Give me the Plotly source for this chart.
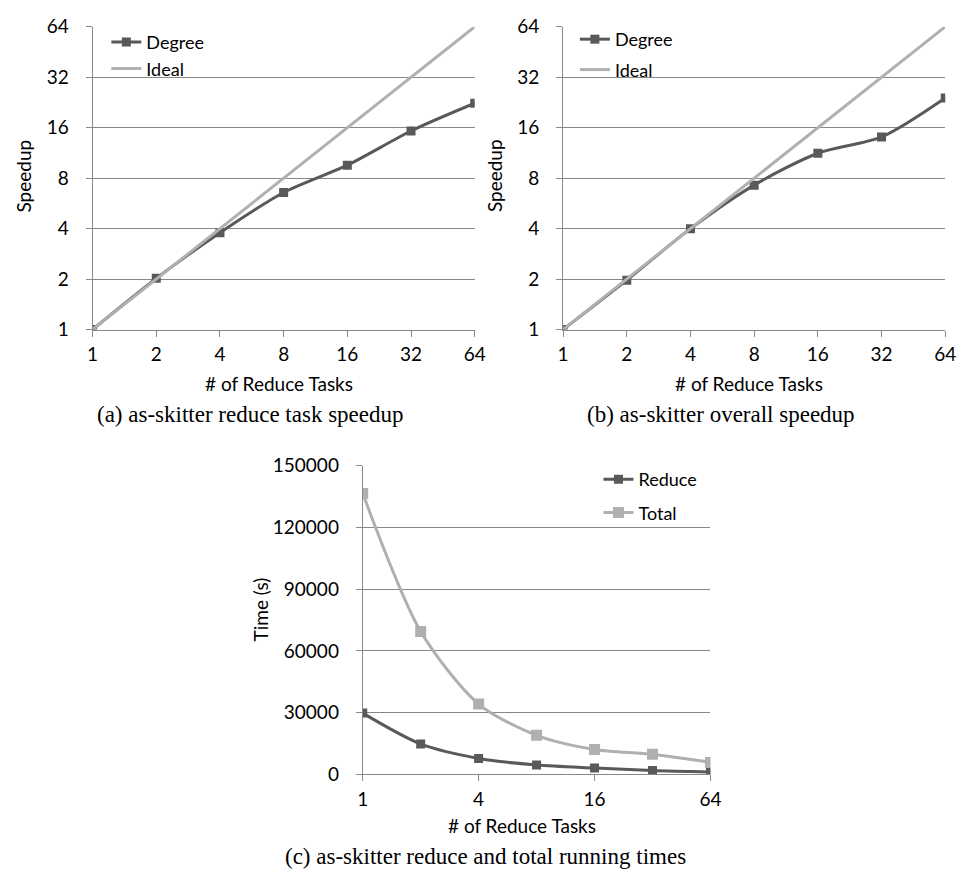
import plotly.graph_objects as go

# ---------------- data ----------------
tasks = [1, 2, 4, 8, 16, 32, 64]
reduce_speedup = [1.0, 2.02, 3.78, 6.57, 9.56, 15.3, 22.4]
overall_speedup = [1.0, 1.97, 4.0, 7.27, 11.27, 14.1, 24.1]
ideal_speedup = [1, 2, 4, 8, 16, 32, 64]
reduce_time = [29800, 14800, 7750, 4560, 3130, 1920, 1200]
total_time = [136600, 69500, 34200, 19000, 12150, 9750, 5800]

speed_ticks = [1, 2, 4, 8, 16, 32, 64]
time_xticks = [1, 4, 16, 64]
time_yticks = [0, 30000, 60000, 90000, 120000, 150000]

W, H = 969, 881
OFF = 8  # default page body margin
FW, FH = W - OFF, H - 2 * OFF  # figure size so the page fits the window exactly
DARK = "#595959"
LIGHT2 = "#B0B0B0"
GRID = "#888888"
FONT = "Lato"
SERIF = "Liberation Serif"
FS = 19
LFS = 18


def px_x(p):
    return (p - OFF) / FW


def px_y(p):
    return 1 - (p - OFF) / FH


fig = go.Figure()

# (a)
fig.add_trace(go.Scatter(x=tasks, y=reduce_speedup, name="Degree", mode="lines+markers",
                         line=dict(color=DARK, width=3, shape="spline", smoothing=0.8),
                         marker=dict(symbol="square", size=9, color=DARK),
                         xaxis="x", yaxis="y", legend="legend", legendgroup="a1"))
fig.add_trace(go.Scatter(x=tasks, y=ideal_speedup, name="Ideal", mode="lines",
                         line=dict(color=LIGHT2, width=3),
                         xaxis="x", yaxis="y", legend="legend", legendgroup="a2"))
# (b)
fig.add_trace(go.Scatter(x=tasks, y=overall_speedup, name="Degree", mode="lines+markers",
                         line=dict(color=DARK, width=3, shape="spline", smoothing=0.8),
                         marker=dict(symbol="square", size=9, color=DARK),
                         xaxis="x2", yaxis="y2", legend="legend2", legendgroup="b1"))
fig.add_trace(go.Scatter(x=tasks, y=ideal_speedup, name="Ideal", mode="lines",
                         line=dict(color=LIGHT2, width=3),
                         xaxis="x2", yaxis="y2", legend="legend2", legendgroup="b2"))
# (c)
fig.add_trace(go.Scatter(x=tasks, y=reduce_time, name="Reduce", mode="lines+markers",
                         line=dict(color=DARK, width=3, shape="spline", smoothing=0.8),
                         marker=dict(symbol="square", size=9, color=DARK),
                         xaxis="x3", yaxis="y3", legend="legend3", legendgroup="c1"))
fig.add_trace(go.Scatter(x=tasks, y=total_time, name="Total", mode="lines+markers",
                         line=dict(color=LIGHT2, width=3, shape="spline", smoothing=0.8),
                         marker=dict(symbol="square", size=11, color=LIGHT2),
                         xaxis="x3", yaxis="y3", legend="legend3", legendgroup="c2"))

tickfont = dict(family=FONT, size=FS, color="#000000")
common_x = dict(type="log", showgrid=False, showline=True, linecolor=GRID, linewidth=1,
                ticks="outside", ticklen=6, tickcolor=GRID, tickfont=tickfont,
                zeroline=False, ticklabelstandoff=2, fixedrange=True)
common_y = dict(showgrid=True, gridcolor=GRID, gridwidth=1, showline=True, linecolor=GRID,
                linewidth=1, ticks="outside", ticklen=6, tickcolor=GRID, tickfont=tickfont,
                zeroline=False, ticklabelstandoff=13, fixedrange=True)

lfont = dict(family=FONT, size=LFS, color="#000")
fig.update_layout(
    width=FW, height=FH, margin=dict(l=0, r=0, t=0, b=0),
    paper_bgcolor="white", plot_bgcolor="white",
    font=dict(family=FONT, size=FS, color="#000000"),
    xaxis=dict(**common_x, domain=[px_x(88), px_x(477)], range=[0, 1.80618],
               tickvals=speed_ticks, ticktext=[str(v) for v in speed_ticks], anchor="y"),
    yaxis=dict(**common_y, type="log", domain=[px_y(326), px_y(15)], range=[0, 1.80618],
               tickvals=speed_ticks, ticktext=[str(v) for v in speed_ticks], anchor="x"),
    xaxis2=dict(**common_x, domain=[px_x(567), px_x(956)], range=[0, 1.80618],
                tickvals=speed_ticks, ticktext=[str(v) for v in speed_ticks], anchor="y2"),
    yaxis2=dict(**common_y, type="log", domain=[px_y(326), px_y(15)], range=[0, 1.80618],
                tickvals=speed_ticks, ticktext=[str(v) for v in speed_ticks], anchor="x2"),
    xaxis3=dict(**common_x, domain=[px_x(363), px_x(717)], range=[0, 1.80618],
                tickvals=time_xticks, ticktext=[str(v) for v in time_xticks], anchor="y3"),
    yaxis3=dict(**common_y, domain=[px_y(783), px_y(466)], range=[0, 150000],
                tickvals=time_yticks, ticktext=[str(v) for v in time_yticks], anchor="x3"),
    legend=dict(x=px_x(102), y=px_y(12), xanchor="left", yanchor="top",
                bgcolor="rgba(0,0,0,0)", font=lfont,
                tracegroupgap=0, traceorder="grouped", itemwidth=30),
    legend2=dict(x=px_x(579), y=px_y(9), xanchor="left", yanchor="top",
                 bgcolor="rgba(0,0,0,0)", font=lfont,
                 tracegroupgap=4, traceorder="grouped", itemwidth=30),
    legend3=dict(x=px_x(603), y=px_y(461), xanchor="left", yanchor="top",
                 bgcolor="rgba(0,0,0,0)", font=lfont,
                 tracegroupgap=7, traceorder="grouped", itemwidth=30),
    showlegend=True,
)

annots = [
    # axis titles
    dict(text="Speedup", x=px_x(18), y=px_y(168), textangle=-90),
    dict(text="Speedup", x=px_x(497), y=px_y(168), textangle=-90),
    dict(text="Time (s)", x=px_x(259), y=px_y(614), textangle=-90),
    dict(text="# of Reduce Tasks", x=px_x(278), y=px_y(381)),
    dict(text="# of Reduce Tasks", x=px_x(756), y=px_y(381)),
    dict(text="# of Reduce Tasks", x=px_x(525), y=px_y(835)),
]
for a in annots:
    fig.add_annotation(xref="paper", yref="paper", showarrow=False, xanchor="center",
                       yanchor="middle", font=dict(family=FONT, size=FS, color="#000"), **a)

captions = [
    ("(a) as-skitter reduce task speedup", 249, 413),
    ("(b) as-skitter overall speedup", 728, 413),
    ("(c) as-skitter reduce and total running times", 488, 867),
]
for t, cx, cy in captions:
    fig.add_annotation(xref="paper", yref="paper", showarrow=False, xanchor="center",
                       yanchor="middle", x=px_x(cx), y=px_y(cy), text=t,
                       font=dict(family=SERIF, size=23, color="#000"))

fig.write_html("out.html")
